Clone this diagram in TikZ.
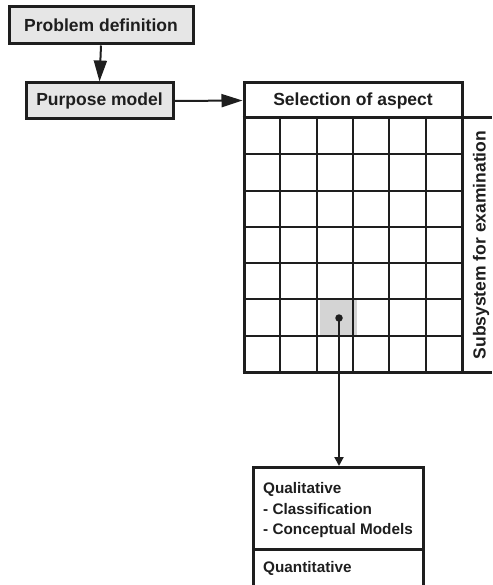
\documentclass[tikz,border=0pt]{standalone}
\usepackage{fontspec}
\setmainfont{Liberation Sans}
\usetikzlibrary{arrows.meta}
\definecolor{ink}{HTML}{1E1E1E}
\definecolor{boxgray}{HTML}{E6E6E6}
\definecolor{cellgray}{HTML}{D4D4D4}
\tikzset{
  bigtext/.style={font=\fontsize{17.5}{21}\selectfont\bfseries, text=ink},
  smalltext/.style={font=\fontsize{15.3}{20}\selectfont\bfseries, text=ink, anchor=base west, inner sep=0pt},
  headbox/.style={draw=ink, line width=3pt, fill=boxgray, bigtext, inner sep=0pt},
  whitebox/.style={draw=ink, line width=3pt, fill=white, bigtext, inner sep=0pt},
  bigarrow/.style={draw=ink, line width=2pt, -{Triangle[length=21pt,width=13pt]}},
  smallarrow/.style={draw=ink, line width=2pt, -{Triangle[length=9pt,width=9pt]}},
  gridline/.style={draw=ink, line width=2pt},
  frame/.style={draw=ink, line width=3pt},
}
\begin{document}
\begin{tikzpicture}[x=1pt, y=-1pt]
\useasboundingbox (0,0) rectangle (492,585);
% top boxes
\node[headbox, minimum width=184pt, minimum height=37pt] (pd) at (101,25.5) {Problem definition};
\node[headbox, minimum width=147pt, minimum height=36pt] (pm) at (99.5,101) {Purpose model};
\node[whitebox, minimum width=218pt, minimum height=35pt] (sel) at (353,100.5) {Selection of aspect};
% highlighted cell
\node[fill=cellgray, minimum width=36.3pt, minimum height=36.3pt, inner sep=0pt] (cell) at (338.5,318.5) {};
% grid
\foreach \i in {1,...,5} {
  \draw[gridline] ({244+\i*36.33},118) -- ({244+\i*36.33},372);
}
\foreach \j in {1,...,6} {
  \draw[gridline] (244,{118+\j*36.29}) -- (462,{118+\j*36.29});
}
\draw[frame] (244,118) -- (244,372);
\draw[frame] (462,118) -- (462,372);
\draw[frame] (242.5,118) -- (492,118);
\draw[frame] (242.5,372) -- (492,372);
% vertical label
\node[bigtext, rotate=90, inner sep=0pt] (sub) at (481,245) {Subsystem for examination};
% dot
\node[circle, fill=ink, inner sep=0pt, minimum size=7.5pt] (dot) at (339,318) {};
% bottom box
\draw[frame] (253,586) -- (253,467) -- (423,467) -- (423,586);
\draw[frame] (253,549) -- (423,549);
\coordinate (bt) at (339,466);
\node[smalltext] (q1) at (263,493) {Qualitative};
\node[smalltext] (q2) at (263,514) {- Classification};
\node[smalltext] (q3) at (263,534) {- Conceptual Models};
\node[smalltext] (q4) at (263,572) {Quantitative};
% arrows
\draw[bigarrow] (pd.south) -- (pm.north);
\draw[bigarrow] (pm.east) -- (sel.west);
\draw[smallarrow] (dot.center) -- (bt);
\end{tikzpicture}
\end{document}
